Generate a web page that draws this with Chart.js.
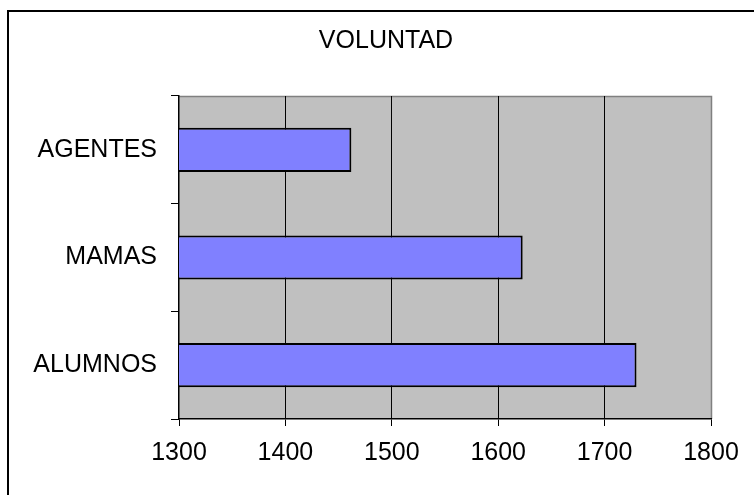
<!DOCTYPE html>
<html>
<head>
<meta charset="utf-8">
<script src="https://cdn.jsdelivr.net/npm/chart.js@4"></script>
<style>
  html, body { margin: 0; padding: 0; background: #fff; }
  #wrap { width: 754px; height: 495px; }
</style>
</head>
<body>
<div id="wrap"><canvas id="c" width="754" height="495"></canvas></div>
<script>
const chartTitle = 'VOLUNTAD';
const categories = ['AGENTES', 'MAMAS', 'ALUMNOS'];
const values = [1462, 1623, 1730];
const axisMin = 1300;
const axisMax = 1800;
const axisStep = 100;

const FONT = "'Liberation Sans', Arial, sans-serif";

const decor = {
  id: 'decor',
  beforeDraw(chart) {
    const ctx = chart.ctx;
    const a = chart.chartArea;
    ctx.save();
    ctx.fillStyle = '#ffffff';
    ctx.fillRect(0, 0, chart.width, chart.height);
    // outer frame (only top and left visible)
    ctx.strokeStyle = '#000000';
    ctx.lineWidth = 2;
    ctx.strokeRect(8, 11, chart.width + 20, chart.height + 20);
    // plot area background
    ctx.fillStyle = '#C0C0C0';
    ctx.fillRect(a.left, a.top, a.right - a.left, a.bottom - a.top);
    // plot frame top/right gray
    ctx.strokeStyle = '#808080';
    ctx.lineWidth = 1.5;
    ctx.beginPath();
    ctx.moveTo(a.left, a.top + 0.5);
    ctx.lineTo(a.right + 0.5, a.top + 0.5);
    ctx.lineTo(a.right + 0.5, a.bottom);
    ctx.stroke();
    // title
    ctx.fillStyle = '#000000';
    ctx.font = '25px ' + FONT;
    ctx.textAlign = 'center';
    ctx.textBaseline = 'middle';
    ctx.fillText(chartTitle, 386, 41);
    ctx.restore();
  }
};

new Chart(document.getElementById('c'), {
  type: 'bar',
  data: {
    labels: categories,
    datasets: [{
      data: values,
      backgroundColor: '#8080FF',
      borderColor: '#000000',
      borderWidth: 2,
      borderSkipped: false,
      barPercentage: 1,
      categoryPercentage: 0.41
    }]
  },
  options: {
    indexAxis: 'y',
    responsive: false,
    animation: false,
    devicePixelRatio: 1,
    layout: { padding: { top: 96, right: 43, left: 0, bottom: 0 } },
    plugins: {
      legend: { display: false },
      title: { display: false },
      tooltip: { enabled: false }
    },
    scales: {
      x: {
        type: 'linear',
        min: axisMin,
        max: axisMax,
        ticks: {
          stepSize: axisStep,
          color: '#000000',
          padding: 12,
          font: { family: FONT, size: 25 },
          callback: (v) => String(v)
        },
        grid: {
          color: (c) => (c.tick && (c.tick.value === axisMin || c.tick.value === axisMax)) ? 'rgba(0,0,0,0)' : '#000000',
          tickColor: '#000000',
          lineWidth: 1,
          tickLength: 7
        },
        border: { display: true, color: '#000000', width: 1.5 },
        afterFit(scale) { scale.height = 76; }
      },
      y: {
        type: 'category',
        ticks: {
          color: '#000000',
          padding: 14,
          font: { family: FONT, size: 25 }
        },
        grid: {
          drawOnChartArea: false,
          offset: true,
          tickColor: '#000000',
          tickLength: 8,
          lineWidth: 1
        },
        border: { display: true, color: '#000000', width: 1.5 },
        afterFit(scale) { scale.width = 179; }
      }
    }
  },
  plugins: [decor]
});
</script>
</body>
</html>
